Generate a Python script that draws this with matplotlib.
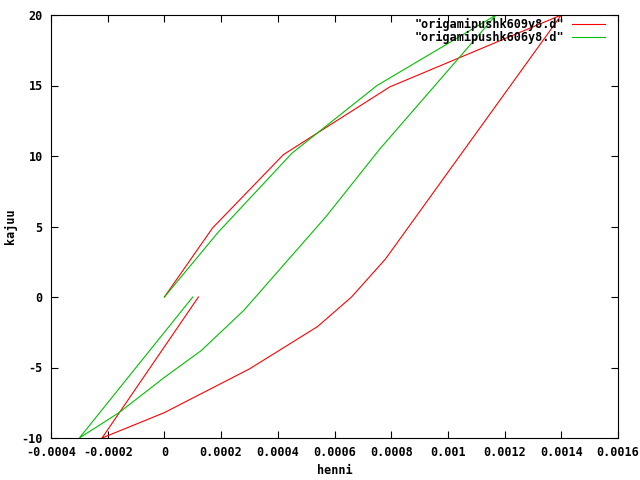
import matplotlib
matplotlib.use("Agg")
import matplotlib.pyplot as plt
import numpy as np

# displacement (henni) and load (kajuu)
henni_609 = [0.0, 0.00017, 0.00042, 0.000795, 0.00140,
             0.00078, 0.00066, 0.00054, 0.00030, 0.0000, -0.00022,
             0.00012]
kajuu_609 = [0.0, 4.9, 10.1, 14.9, 20.0,
             2.7, 0.0, -2.1, -5.1, -8.2, -10.0,
             0.0]

henni_606 = [0.0, 0.00019, 0.00045, 0.00075, 0.00117,
             0.00076, 0.00057, 0.00028, 0.00013, 0.0000, -0.00016, -0.00030,
             0.00010]
kajuu_606 = [0.0, 4.6, 10.2, 15.0, 20.0,
             10.5, 5.7, -0.95, -3.8, -5.7, -8.2, -10.0,
             0.0]

xticks = [-0.0004, -0.0002, 0, 0.0002, 0.0004, 0.0006, 0.0008, 0.001, 0.0012, 0.0014, 0.0016]
yticks = [-10, -5, 0, 5, 10, 15, 20]

font = {'family': 'DejaVu Sans Mono', 'weight': 'bold', 'size': 8.5}

fig = plt.figure(figsize=(6.4, 4.8), dpi=100)
ax = fig.add_axes([51/640, 42/480, 567/640, 423/480])

ax.plot(henni_609, kajuu_609, color='#ff0000', lw=0.8, label='"origamipushk609y8.d"')
ax.plot(henni_606, kajuu_606, color='#00c000', lw=0.8, label='"origamipushk606y8.d"')

ax.set_xlim(-0.0004, 0.0016)
ax.set_ylim(-10, 20)
ax.set_xticks(xticks)
ax.set_yticks(yticks)
ax.set_xticklabels(['%g' % t for t in xticks], fontdict=font)
ax.set_yticklabels(['%g' % t for t in yticks], fontdict=font)
ax.tick_params(direction='in', top=True, right=True, length=5, width=0.8, pad=6)
for s in ax.spines.values():
    s.set_linewidth(0.8)

ax.set_xlabel('henni', fontdict=font, labelpad=3)
ax.set_ylabel('kajuu', fontdict=font, labelpad=3)

# gnuplot-style key: label first, sample line after, top right
leg = ax.legend(loc='upper right', bbox_to_anchor=(1 - 8/567, 1 + 2/423),
                frameon=False, markerfirst=False,
                prop={'family': 'DejaVu Sans Mono', 'weight': 'bold', 'size': 8.5},
                handlelength=2.8, handletextpad=0.7, labelspacing=0.0,
                borderaxespad=0.2, borderpad=0.2)

fig.savefig('out.png', dpi=100)
